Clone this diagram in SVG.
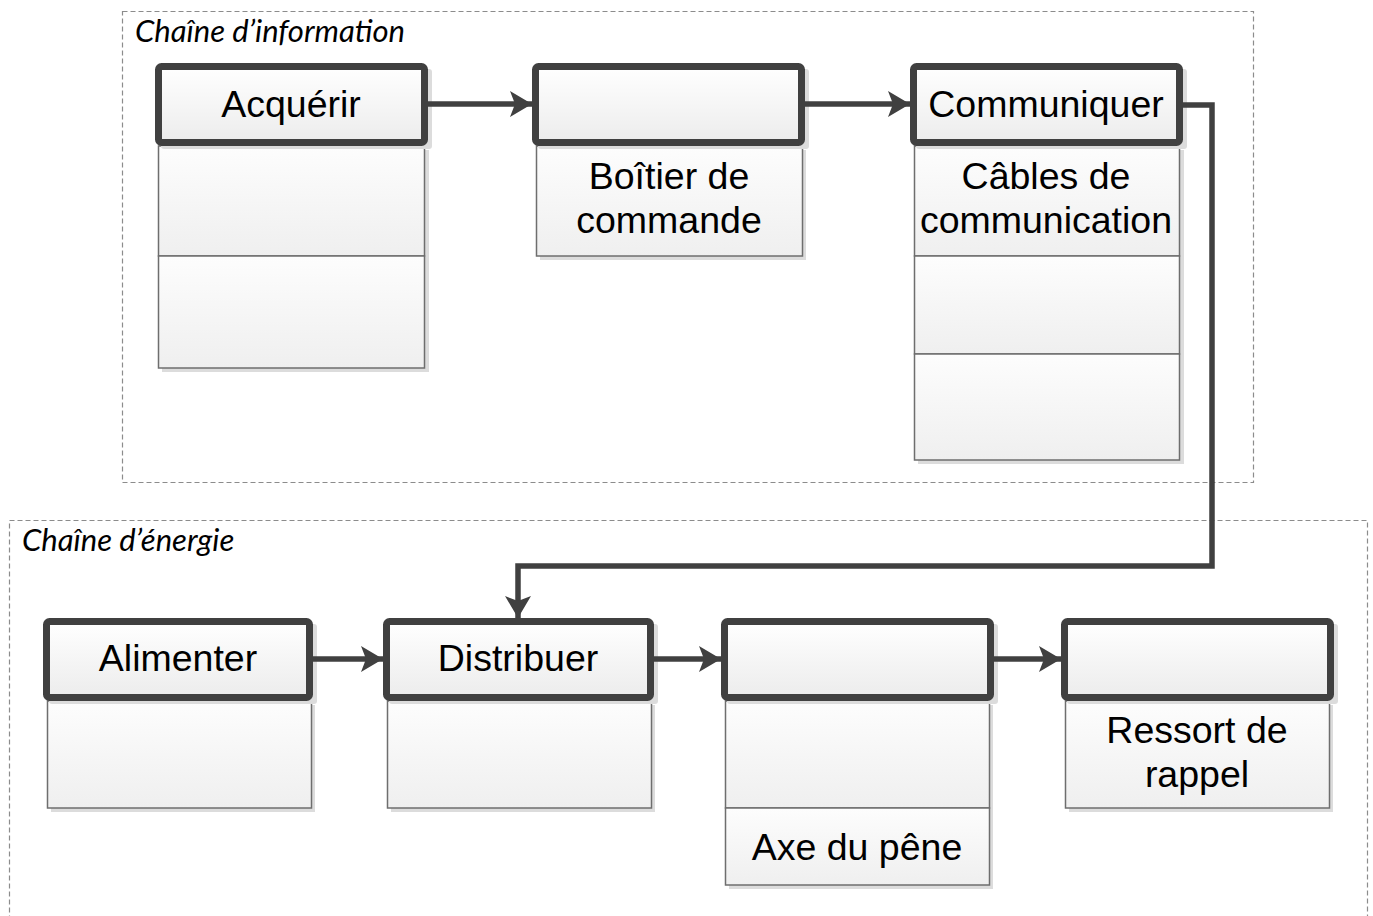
<svg xmlns="http://www.w3.org/2000/svg" width="1373" height="916" viewBox="0 0 1373 916">
<style>
.cont{fill:none;stroke:#8c8c8c;stroke-width:1.2;stroke-dasharray:5,3}
.ctitle{font-family:Lato,"Open Sans",sans-serif;font-style:italic;font-size:31px;fill:#000}
.hdr{fill:url(#gh);stroke:#404040;stroke-width:7}
.sh{fill:#dcdcdc}
.body{fill:url(#gb);stroke:#6e6e6e;stroke-width:1.5}
.lbl{font-family:"Liberation Sans",Arial,sans-serif;font-size:37.5px;fill:#000;text-anchor:middle}
.con{fill:none;stroke:#404040;stroke-width:5.5}
</style>
<defs>
<linearGradient id="gh" x1="0" y1="0" x2="0" y2="1"><stop offset="0" stop-color="#ffffff"/><stop offset="1" stop-color="#ececec"/></linearGradient>
<linearGradient id="gb" x1="0" y1="0" x2="0" y2="1"><stop offset="0" stop-color="#fdfdfd"/><stop offset="1" stop-color="#efefef"/></linearGradient>
<marker id="ah" markerUnits="userSpaceOnUse" markerWidth="24" markerHeight="28" refX="22" refY="14" orient="auto" viewBox="0 0 24 28">
<path d="M0,1 L22,14 L0,27 L5,14 Z" fill="#404040"/>
</marker>
</defs>
<rect class="cont" x="122.5" y="11.5" width="1131" height="471"/>
<text class="ctitle" x="135" y="42">Chaîne d’information</text>
<rect class="cont" x="9.5" y="520.5" width="1358" height="410"/>
<text class="ctitle" x="22" y="551">Chaîne d’énergie</text>

<g id="acquerir">
<rect class="sh" x="162" y="150" width="267" height="222"/>
<rect class="body" x="158.5" y="146" width="266" height="110"/>
<rect class="body" x="158.5" y="256" width="266" height="112"/>
<rect class="sh" x="161" y="69" width="271" height="80" rx="3"/>
<rect class="hdr" x="158.5" y="66.5" width="266" height="76" rx="3"/>
<text class="lbl" x="291" y="117">Acquérir</text>
</g>

<g id="boitier">
<rect class="sh" x="540" y="150" width="266" height="110"/>
<rect class="body" x="536.5" y="146" width="266" height="110"/>
<rect class="sh" x="538" y="69" width="271" height="80" rx="3"/>
<rect class="hdr" x="535.5" y="66.5" width="266" height="76" rx="3"/>
<text class="lbl" x="669" y="189">Boîtier de</text>
<text class="lbl" x="669" y="233">commande</text>
</g>

<g id="communiquer">
<rect class="sh" x="918" y="150" width="266" height="314"/>
<rect class="body" x="914.5" y="146" width="265" height="110"/>
<rect class="body" x="914.5" y="256" width="265" height="98"/>
<rect class="body" x="914.5" y="354" width="265" height="106"/>
<rect class="sh" x="916" y="69" width="271" height="80" rx="3"/>
<rect class="hdr" x="913.5" y="66.5" width="266" height="76" rx="3"/>
<text class="lbl" x="1046" y="117">Communiquer</text>
<text class="lbl" x="1046" y="189">Câbles de</text>
<text class="lbl" x="1046" y="233">communication</text>
</g>

<g id="alimenter">
<rect class="sh" x="51" y="705" width="264" height="107"/>
<rect class="body" x="47.5" y="701" width="264" height="107"/>
<rect class="sh" x="49" y="624" width="268" height="80" rx="3"/>
<rect class="hdr" x="46.5" y="621.5" width="263" height="76" rx="3"/>
<text class="lbl" x="178" y="671">Alimenter</text>
</g>

<g id="distribuer">
<rect class="sh" x="391" y="705" width="264" height="107"/>
<rect class="body" x="387.5" y="701" width="264" height="107"/>
<rect class="sh" x="389" y="624" width="269" height="80" rx="3"/>
<rect class="hdr" x="386.5" y="621.5" width="264" height="76" rx="3"/>
<text class="lbl" x="518" y="671">Distribuer</text>
</g>

<g id="transmettre">
<rect class="sh" x="729" y="705" width="264" height="184"/>
<rect class="body" x="725.5" y="701" width="264" height="107"/>
<rect class="body" x="725.5" y="808" width="264" height="77"/>
<rect class="sh" x="727" y="624" width="271" height="80" rx="3"/>
<rect class="hdr" x="724.5" y="621.5" width="266" height="76" rx="3"/>
<text class="lbl" x="857" y="860">Axe du pêne</text>
</g>

<g id="agir">
<rect class="sh" x="1069" y="705" width="264" height="107"/>
<rect class="body" x="1065.5" y="701" width="264" height="107"/>
<rect class="sh" x="1067" y="624" width="271" height="80" rx="3"/>
<rect class="hdr" x="1064.5" y="621.5" width="266" height="76" rx="3"/>
<text class="lbl" x="1197" y="743">Ressort de</text>
<text class="lbl" x="1197" y="787">rappel</text>
</g>

<g id="connectors">
<path class="con" d="M428,104 H532" marker-end="url(#ah)"/>
<path class="con" d="M805,104 H910" marker-end="url(#ah)"/>
<path class="con" d="M1183,105 H1212 V566 H518 V618" marker-end="url(#ah)"/>
<path class="con" d="M313,659 H383" marker-end="url(#ah)"/>
<path class="con" d="M654,659 H721" marker-end="url(#ah)"/>
<path class="con" d="M994,659 H1061" marker-end="url(#ah)"/>
</g>
</svg>
